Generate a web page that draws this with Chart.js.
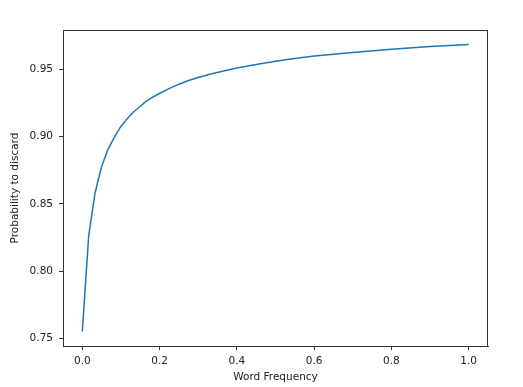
<!DOCTYPE html>
<html>
<head>
<meta charset="utf-8">
<script src="https://cdn.jsdelivr.net/npm/chart.js@4"></script>
<style>
  html, body { margin: 0; padding: 0; background: #fff; }
  #wrap { width: 523px; height: 387px; }
</style>
</head>
<body>
<div id="wrap"><canvas id="c" width="523" height="387"></canvas></div>
<script>
// Values
const wordFrequency = [0, 0.0164, 0.0328, 0.0492, 0.0656, 0.082, 0.0984, 0.115, 0.131, 0.148, 0.164, 0.18, 0.197, 0.213, 0.23, 0.25, 0.275, 0.3, 0.33, 0.36, 0.4, 0.45, 0.5, 0.55, 0.6, 0.7, 0.8, 0.9, 1.0];
const discardProb = [0.755, 0.826, 0.858, 0.877, 0.890, 0.899, 0.907, 0.913, 0.918, 0.922, 0.926, 0.929, 0.9317, 0.934, 0.9364, 0.939, 0.9417, 0.944, 0.9464, 0.9485, 0.951, 0.9537, 0.956, 0.9581, 0.960, 0.9626, 0.965, 0.967, 0.9686];
const xTicks = [0.0, 0.2, 0.4, 0.6, 0.8, 1.0];
const yTicks = [0.75, 0.80, 0.85, 0.90, 0.95];

const points = wordFrequency.map((x, i) => ({ x: x, y: discardProb[i] }));

const frame = {
  id: 'frame',
  afterDraw(chart) {
    const a = chart.chartArea, ctx = chart.ctx;
    ctx.save();
    ctx.strokeStyle = '#333';
    ctx.lineWidth = 1;
    ctx.strokeRect(Math.round(a.left) + 0.5, Math.round(a.top) + 0.5,
                   Math.round(a.right - a.left) - 1, Math.round(a.bottom - a.top));
    ctx.restore();
  }
};

const font = { family: 'DejaVu Sans', size: 10.5 };

new Chart(document.getElementById('c'), {
  type: 'line',
  data: {
    datasets: [{
      data: points,
      borderColor: '#1f77b4',
      borderWidth: 1.5,
      pointRadius: 0,
      tension: 0,
      fill: false
    }]
  },
  options: {
    responsive: false,
    animation: false,
    devicePixelRatio: 1,
    layout: { padding: { top: 30, right: 35, bottom: 3, left: 9 } },
    plugins: { legend: { display: false }, tooltip: { enabled: false } },
    scales: {
      x: {
        type: 'linear',
        min: -0.05,
        max: 1.05,
        afterBuildTicks(s) { s.ticks = xTicks.map(v => ({ value: v })); },
        afterFit(s) { s.height = 38; },
        ticks: {
          font: font, color: '#222', padding: 5, maxRotation: 0,
          callback: v => v.toFixed(1)
        },
        grid: { display: true, drawOnChartArea: false, drawTicks: true, tickLength: 4, color: '#333' },
        border: { display: true, color: '#333' },
        title: { display: true, text: 'Word Frequency', font: font, color: '#222', padding: { top: 0, bottom: 0 } }
      },
      y: {
        type: 'linear',
        min: 0.7443,
        max: 0.9793,
        afterBuildTicks(s) { s.ticks = yTicks.map(v => ({ value: v })); },
        afterFit(s) { s.width = 54; },
        ticks: {
          font: font, color: '#222', padding: 6,
          callback: v => v.toFixed(2)
        },
        grid: { display: true, drawOnChartArea: false, drawTicks: true, tickLength: 4, color: '#333' },
        border: { display: true, color: '#333' },
        title: { display: true, text: 'Probability to discard', font: font, color: '#222', padding: { top: 0, bottom: 0 } }
      }
    }
  },
  plugins: [frame]
});
</script>
</body>
</html>
